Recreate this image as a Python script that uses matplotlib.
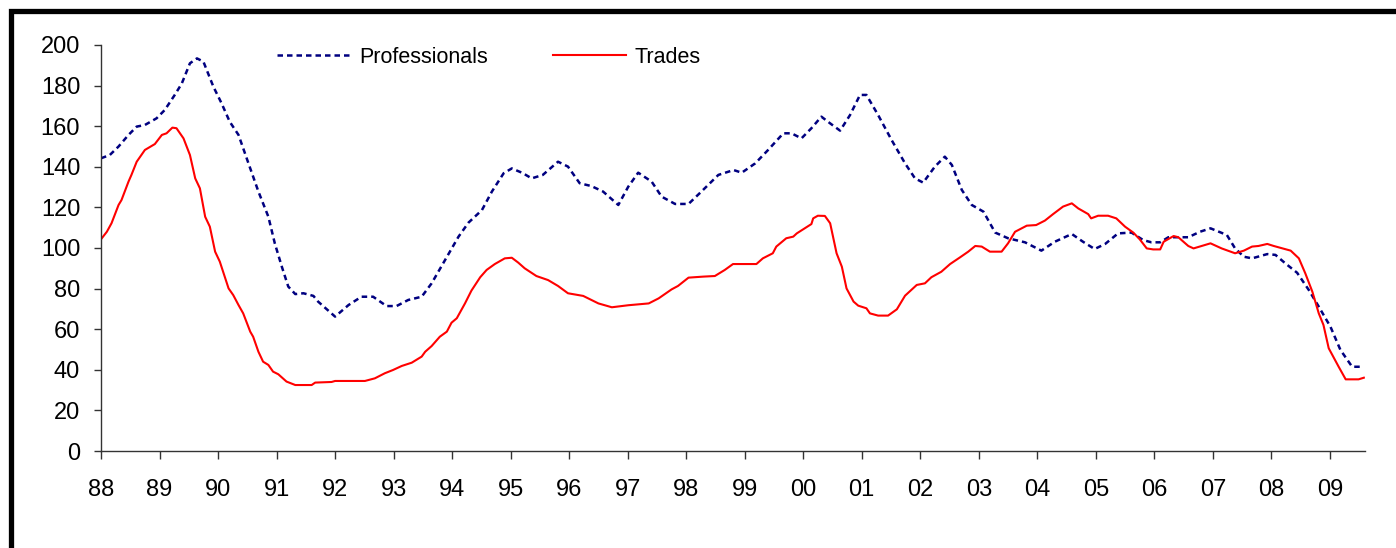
import matplotlib
matplotlib.use('Agg')
import matplotlib.pyplot as plt
from matplotlib.patches import Rectangle

plt.rcParams['font.family'] = ['Liberation Sans', 'DejaVu Sans']

# tick labels on the x axis (two-digit years)
year_ticks = list(range(1988, 2010))
year_labels = ['88', '89', '90', '91', '92', '93', '94', '95', '96', '97', '98',
               '99', '00', '01', '02', '03', '04', '05', '06', '07', '08', '09']

# Professionals
prof_x = [1988.00, 1988.15, 1988.30, 1988.47, 1988.61, 1988.75, 1988.95, 1989.09,
          1989.26, 1989.38, 1989.52, 1989.64, 1989.75, 1989.92, 1990.06, 1990.20,
          1990.35, 1990.52, 1990.69, 1990.86, 1990.97, 1991.09, 1991.20, 1991.32,
          1991.46, 1991.63, 1991.71, 1992.00, 1992.23, 1992.45, 1992.65, 1992.88,
          1993.05, 1993.25, 1993.48, 1993.65, 1993.88, 1994.11, 1994.28, 1994.51,
          1994.68, 1994.88, 1995.02, 1995.20, 1995.36, 1995.55, 1995.81, 1995.98,
          1996.18, 1996.38, 1996.58, 1996.84, 1997.01, 1997.18, 1997.41, 1997.58,
          1997.81, 1998.04, 1998.26, 1998.55, 1998.81, 1998.95, 1999.18, 1999.40,
          1999.66, 1999.80, 1999.97, 2000.14, 2000.31, 2000.46, 2000.63, 2000.80,
          2000.97, 2001.08, 2001.28, 2001.51, 2001.74, 2001.91, 2002.05, 2002.25,
          2002.42, 2002.54, 2002.71, 2002.88, 2003.08, 2003.28, 2003.50, 2003.79,
          2004.07, 2004.30, 2004.59, 2004.78, 2004.98, 2005.16, 2005.38, 2005.61,
          2005.81, 2005.95, 2006.10, 2006.24, 2006.58, 2006.78, 2006.96, 2007.24,
          2007.38, 2007.53, 2007.67, 2007.93, 2008.07, 2008.24, 2008.44, 2008.64,
          2008.81, 2009.01, 2009.18, 2009.38, 2009.55]
prof_y = [144.2, 145.8, 150.0, 155.7, 159.8, 160.6, 163.9, 168.0,
          175.4, 181.0, 191.0, 193.4, 191.8, 179.5, 171.3, 162.2,
          155.7, 141.7, 127.8, 115.4, 102.3, 90.8, 81.0, 77.3,
          77.7, 76.4, 73.6, 66.2, 71.9, 76.0, 76.0, 71.4,
          71.4, 74.4, 76.0, 82.6, 94.1, 105.6, 112.5, 118.7,
          127.8, 136.8, 139.2, 137.0, 134.3, 136.0, 142.5, 140.1,
          131.9, 130.5, 127.8, 121.2, 130.2, 137.1, 132.7, 125.3,
          121.7, 121.7, 127.8, 136.0, 138.4, 137.1, 141.7, 148.3,
          156.5, 156.5, 154.0, 159.0, 164.7, 161.4, 157.8, 165.5,
          175.4, 175.4, 165.5, 153.2, 141.7, 134.3, 132.2, 140.1,
          145.0, 140.9, 128.6, 121.2, 117.9, 107.6, 104.8, 102.8,
          98.7, 103.1, 106.9, 103.1, 99.5, 102.0, 107.2, 107.6,
          103.9, 102.8, 102.8, 105.3, 105.3, 108.0, 109.7, 106.4,
          99.8, 95.7, 94.9, 97.0, 96.6, 92.4, 87.8, 79.3,
          71.1, 61.2, 49.8, 41.5, 41.5]

# Trades
trades_x = [1988.00, 1988.10, 1988.18, 1988.30, 1988.35, 1988.47, 1988.52, 1988.61,
            1988.75, 1988.92, 1989.04, 1989.12, 1989.22, 1989.29, 1989.41, 1989.52,
            1989.61, 1989.69, 1989.78, 1989.86, 1989.95, 1990.03, 1990.18, 1990.26,
            1990.35, 1990.43, 1990.55, 1990.60, 1990.69, 1990.77, 1990.86, 1990.94,
            1991.03, 1991.17, 1991.32, 1991.60, 1991.66, 1991.94, 1992.00, 1992.51,
            1992.68, 1992.85, 1992.99, 1993.14, 1993.31, 1993.48, 1993.54, 1993.65,
            1993.79, 1993.91, 1993.99, 1994.08, 1994.22, 1994.33, 1994.48, 1994.59,
            1994.73, 1994.90, 1995.02, 1995.13, 1995.24, 1995.44, 1995.64, 1995.81,
            1995.98, 1996.24, 1996.50, 1996.73, 1997.01, 1997.36, 1997.53, 1997.75,
            1997.86, 1998.04, 1998.29, 1998.49, 1998.66, 1998.80, 1999.20, 1999.31,
            1999.48, 1999.54, 1999.71, 1999.83, 1999.89, 2000.14, 2000.17, 2000.25,
            2000.37, 2000.46, 2000.57, 2000.66, 2000.74, 2000.86, 2000.94, 2001.08,
            2001.14, 2001.28, 2001.45, 2001.60, 2001.74, 2001.94, 2002.08, 2002.19,
            2002.36, 2002.51, 2002.68, 2002.82, 2002.94, 2003.05, 2003.19, 2003.39,
            2003.50, 2003.62, 2003.82, 2003.98, 2004.13, 2004.27, 2004.44, 2004.59,
            2004.70, 2004.87, 2004.92, 2005.04, 2005.21, 2005.35, 2005.50, 2005.64,
            2005.75, 2005.87, 2005.98, 2006.10, 2006.16, 2006.33, 2006.41, 2006.58,
            2006.67, 2006.96, 2007.15, 2007.38, 2007.53, 2007.67, 2007.78, 2007.93,
            2008.04, 2008.19, 2008.33, 2008.47, 2008.58, 2008.70, 2008.81, 2008.89,
            2008.98, 2009.15, 2009.27, 2009.49, 2009.58]
trades_y = [104.3, 108.0, 112.2, 121.2, 123.6, 132.7, 136.0, 142.5,
            148.3, 151.2, 155.7, 156.5, 159.3, 159.0, 154.0, 145.8,
            134.3, 129.4, 115.4, 110.5, 98.2, 93.3, 80.1, 76.8,
            71.9, 67.8, 58.8, 56.3, 48.9, 44.0, 42.4, 39.1,
            37.8, 34.2, 32.5, 32.5, 33.7, 34.0, 34.5, 34.5,
            35.8, 38.3, 39.9, 41.9, 43.5, 46.5, 48.9, 51.7,
            56.3, 58.8, 63.2, 65.4, 72.7, 79.0, 85.6, 89.2,
            92.1, 94.9, 95.2, 92.8, 90.0, 86.2, 84.2, 81.3,
            77.7, 76.4, 72.7, 70.8, 71.8, 72.7, 75.2, 79.6,
            81.3, 85.4, 85.9, 86.2, 89.2, 92.1, 92.1, 94.9,
            97.4, 100.7, 104.8, 105.6, 107.2, 111.8, 114.6, 115.9,
            115.8, 112.2, 97.4, 90.8, 80.1, 73.6, 71.6, 70.3,
            67.8, 66.7, 66.7, 69.8, 76.5, 81.8, 82.6, 85.6,
            88.3, 92.1, 95.4, 98.2, 101.0, 100.7, 98.2, 98.2,
            102.3, 108.0, 111.0, 111.3, 113.5, 116.7, 120.4, 122.0,
            119.5, 116.7, 114.6, 115.9, 115.9, 114.6, 110.5, 107.6,
            104.3, 99.8, 99.3, 99.3, 103.1, 105.9, 105.3, 101.0,
            99.8, 102.3, 99.8, 97.4, 98.7, 100.7, 101.0, 102.0,
            101.0, 99.8, 98.7, 94.9, 87.5, 78.5, 67.8, 62.1,
            50.6, 41.5, 35.3, 35.3, 36.1]

W, H = 1396, 548
fig = plt.figure(figsize=(W / 100, H / 100), dpi=100)
fig.patch.set_facecolor('white')
ax = fig.add_axes([101 / W, 1 - 451 / H, (1365 - 101) / W, (451 - 45) / H])

ax.plot(prof_x, prof_y, color='#000080', lw=1.8, dashes=(2.2, 1.6),
        label='Professionals')
ax.plot(trades_x, trades_y, color='#ff0000', lw=1.5, label='Trades')

ax.set_xlim(1988, 2009.6)
ax.set_ylim(0, 200)
ax.set_yticks(range(0, 201, 20))
ax.set_xticks(year_ticks)
ax.set_xticklabels(year_labels)

for s in ['top', 'right']:
    ax.spines[s].set_visible(False)
for s in ['left', 'bottom']:
    ax.spines[s].set_color('#333333')
    ax.spines[s].set_linewidth(1.0)
ax.tick_params(axis='y', direction='out', length=5, width=1, color='#333333',
               labelsize=17, pad=10)
ax.tick_params(axis='x', direction='out', length=6, width=1, color='#333333',
               labelsize=17, pad=14)

ax.legend(loc='upper left', bbox_to_anchor=(277 / W, 1 - 47 / H),
          bbox_transform=fig.transFigure, ncol=2, frameon=False,
          fontsize=15.5, borderpad=0, borderaxespad=0, handlelength=3.4,
          handletextpad=0.42, columnspacing=3.0)

# thick black frame on top and left
fig.add_artist(Rectangle((11.5 / W, -0.1), 1.2, 1.1 - 11.5 / H + 0.0,
                         transform=fig.transFigure, fill=False,
                         edgecolor='black', lw=3.8))

fig.savefig('out.png', dpi=100, facecolor='white')
